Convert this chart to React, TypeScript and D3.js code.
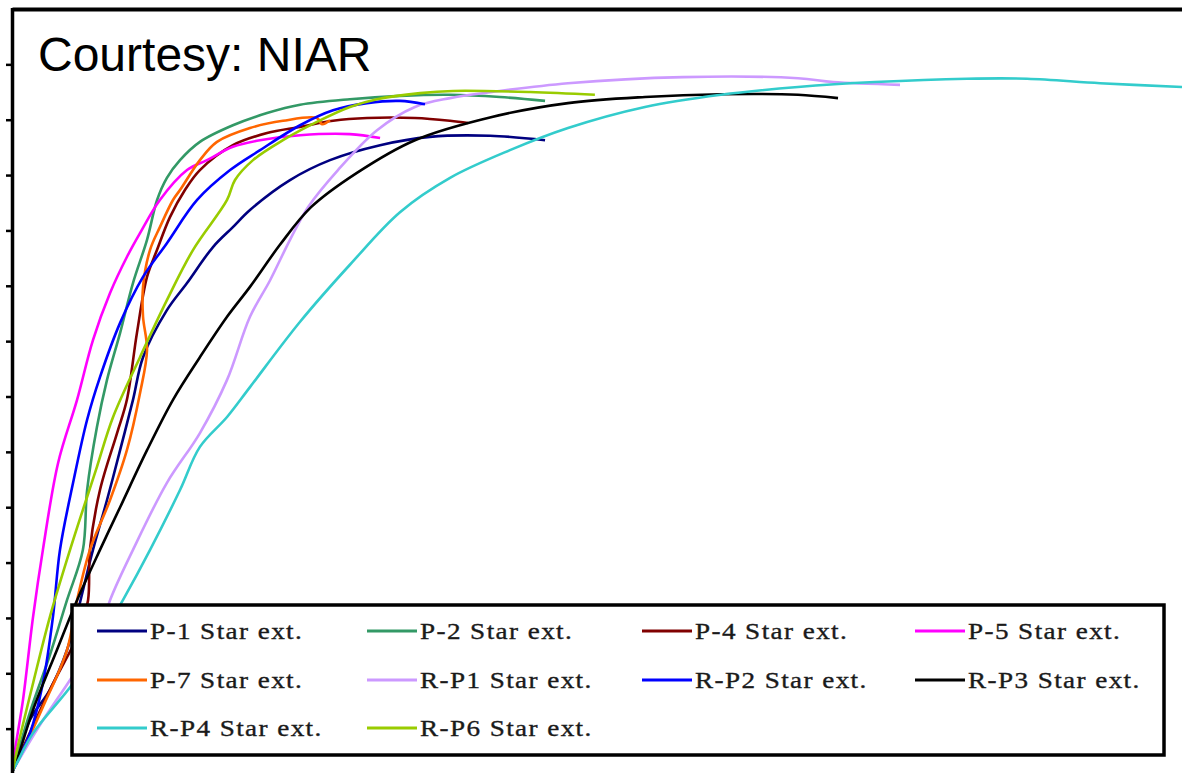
import React, { useEffect, useRef } from "react";
import * as d3 from "d3";

const WIDTH = 1182;
const HEIGHT = 773;

type Pt = [number, number];

// displacement (x) vs load (y)
const p1: Pt[] = [[0.04, 0.25], [0.77, 1.16], [1.62, 1.7], [2.35, 2.42], [3.46, 4.23], [4.06, 5.13], [4.62, 6.03], [5.17, 6.94], [5.6, 7.71], [6.62, 8.56], [7.48, 9.05], [8.59, 9.7], [9.44, 10.06], [10.17, 10.37], [11.88, 10.91], [13.59, 11.27], [15.73, 11.54], [17.86, 11.69], [20.43, 11.71], [22.78, 11.63]];
const p2: Pt[] = [[0.04, 0.25], [0.77, 1.3], [1.62, 2.33], [2.35, 3.32], [3.03, 4.23], [3.21, 5.31], [3.63, 6.45], [4.06, 7.3], [4.62, 8.15], [5.17, 9.05], [5.77, 9.83], [6.2, 10.55], [6.62, 10.95], [7.18, 11.27], [8.03, 11.6], [9.44, 11.9], [10.9, 12.12], [12.31, 12.27], [14.44, 12.37], [16.58, 12.43], [18.72, 12.45], [20.85, 12.41], [22.78, 12.34]];
const p4: Pt[] = [[0.04, 0.25], [1.62, 1.7], [2.91, 2.78], [3.25, 3.32], [3.33, 4.23], [3.76, 5.31], [4.49, 6.34], [4.91, 6.94], [5.34, 8.15], [5.77, 9.16], [6.2, 9.65], [6.75, 10.24], [7.39, 10.73], [8.03, 11.09], [9.44, 11.54], [10.9, 11.76], [12.31, 11.87], [13.72, 11.98], [15.17, 12.03], [17.22, 12.03], [18.72, 11.98], [19.49, 11.94]];
const p5: Pt[] = [[0.04, 0.25], [0.13, 0.61], [0.47, 1.52], [0.9, 3.02], [1.32, 4.23], [1.97, 5.8], [2.78, 6.94], [3.46, 8.02], [4.19, 8.87], [4.91, 9.52], [5.47, 9.95], [6.32, 10.55], [7.48, 11.09], [8.33, 11.27], [9.44, 11.51], [10.6, 11.63], [12.31, 11.72], [14.44, 11.74], [15.73, 11.67]];
const p7: Pt[] = [[0.04, 0.25], [0.34, 0.49], [1.32, 1.39], [2.35, 2.42], [2.78, 3.32], [3.33, 4.23], [4.19, 5.13], [4.91, 6.03], [5.47, 7.06], [5.77, 7.84], [5.6, 8.44], [5.6, 8.98], [5.9, 9.65], [6.32, 10.06], [6.88, 10.55], [7.18, 10.73], [8.03, 11.27], [8.76, 11.6], [10.17, 11.85], [11.58, 11.98], [13.03, 12.03], [13.25, 11.92], [13.59, 11.99]];
const rp1: Pt[] = [[0.04, 0.25], [1.2, 1.07], [2.48, 1.88], [3.76, 2.73], [4.19, 3.32], [5.17, 4.23], [6.62, 5.44], [8.03, 6.34], [9.19, 7.3], [10.17, 8.44], [11.03, 9.1], [11.88, 9.83], [12.65, 10.42], [13.93, 11.09], [15.6, 11.81], [17.22, 12.23], [18.72, 12.39], [20.51, 12.5], [23.76, 12.66], [28.68, 12.77], [33.59, 12.75], [35.09, 12.68], [37.95, 12.63]];
const rp2: Pt[] = [[0.04, 0.25], [0.77, 0.92], [1.32, 1.82], [1.75, 3.02], [2.05, 4.23], [2.61, 5.44], [3.21, 6.58], [3.76, 7.35], [4.62, 8.33], [5.6, 9.16], [6.62, 9.77], [7.91, 10.55], [9.32, 11.09], [10.6, 11.45], [12.31, 11.9], [13.72, 12.17], [15.17, 12.3], [16.58, 12.34], [17.65, 12.28]];
const rp3: Pt[] = [[0.04, 0.25], [0.21, 0.43], [0.9, 1.34], [1.92, 2.42], [2.78, 3.32], [3.76, 4.23], [4.62, 5.0], [5.77, 6.03], [6.88, 6.94], [8.03, 7.71], [9.19, 8.44], [10.17, 8.98], [11.45, 9.74], [12.78, 10.42], [14.74, 11.04], [17.22, 11.63], [20.51, 12.05], [23.76, 12.3], [27.05, 12.41], [30.3, 12.46], [33.59, 12.45], [35.3, 12.39]];
const rp4: Pt[] = [[0.04, 0.25], [0.21, 0.38], [0.9, 0.92], [2.61, 1.82], [3.76, 2.6], [4.74, 3.32], [5.9, 4.23], [7.18, 5.31], [8.03, 6.09], [9.19, 6.63], [10.17, 7.17], [12.31, 8.35], [14.44, 9.38], [16.58, 10.33], [18.72, 10.95], [21.28, 11.45], [23.76, 11.85], [27.05, 12.23], [30.3, 12.45], [33.59, 12.59], [36.88, 12.68], [40.81, 12.74], [43.38, 12.74], [46.5, 12.66], [50.0, 12.59]];
const rp6: Pt[] = [[0.04, 0.25], [0.21, 0.61], [0.9, 1.82], [1.62, 3.02], [2.48, 4.23], [3.63, 5.73], [4.32, 6.63], [5.47, 7.71], [6.62, 8.74], [7.74, 9.65], [9.19, 10.55], [9.53, 10.91], [10.3, 11.27], [11.58, 11.63], [13.03, 11.96], [14.44, 12.23], [15.6, 12.37], [17.44, 12.48], [18.85, 12.52], [22.14, 12.5], [24.91, 12.45]];

const seriesNames = [
  "P-1 Star ext.", "P-2 Star ext.", "P-4 Star ext.", "P-5 Star ext.",
  "P-7 Star ext.", "R-P1 Star ext.", "R-P2 Star ext.", "R-P3 Star ext.",
  "R-P4 Star ext.", "R-P6 Star ext.",
];
const seriesColors = [
  "#000080", "#339966", "#800000", "#ff00ff",
  "#ff6600", "#cc99ff", "#0000ff", "#000000",
  "#33cccc", "#99cc00",
];
const seriesData = [p1, p2, p4, p5, p7, rp1, rp2, rp3, rp4, rp6];
const loadTicks = d3.range(1, 14);

export default function App() {
  const axisRef = useRef<SVGGElement>(null);

  const x = d3.scaleLinear().domain([0, 50]).range([12, 1182]);
  const y = d3.scaleLinear().domain([0, 14]).range([784, 9]);

  const line = d3
    .line<Pt>()
    .x((d) => x(d[0]))
    .y((d) => y(d[1]))
    .curve(d3.curveCatmullRom.alpha(0.5));

  useEffect(() => {
    if (!axisRef.current) return;
    const g = d3.select(axisRef.current);
    g.selectAll("*").remove();
    g.call(
      d3.axisLeft(y).tickValues(loadTicks).tickSize(5).tickFormat(() => "")
    );
    g.select(".domain").remove();
    g.selectAll(".tick line").attr("stroke", "#000").attr("stroke-width", 2.5);
  }, []);

  // legend layout
  const colX = [97, 367, 642, 915];
  const rowY = [631, 680, 728];

  return (
    <svg
      width={WIDTH}
      height={HEIGHT}
      style={{ position: "absolute", left: 0, top: 0, background: "#fff" }}
    >
      <rect x={0} y={0} width={WIDTH} height={HEIGHT} fill="#fff" />

      {seriesData.map((d, i) => (
        <path
          key={seriesNames[i]}
          d={line(d) ?? ""}
          fill="none"
          stroke={seriesColors[i]}
          strokeWidth={2.6}
          strokeLinejoin="round"
        />
      ))}

      {/* frame */}
      <line x1={12.5} y1={9.5} x2={WIDTH + 5} y2={9.5} stroke="#000" strokeWidth={4} />
      <line x1={12.5} y1={8} x2={12.5} y2={HEIGHT + 5} stroke="#000" strokeWidth={3.5} />
      <g ref={axisRef} transform="translate(11,0)" />

      <text
        x={38}
        y={71}
        fontFamily="Liberation Sans, Arial, sans-serif"
        fontSize={48}
        fill="#000"
      >
        Courtesy: NIAR
      </text>

      {/* legend */}
      <rect x={72} y={605} width={1092} height={150} fill="#fff" stroke="#000" strokeWidth={3.5} />
      {seriesNames.map((name, i) => {
        const cx = colX[i % 4];
        const cy = rowY[Math.floor(i / 4)];
        return (
          <g key={name}>
            <line x1={cx} x2={cx + 50} y1={cy} y2={cy} stroke={seriesColors[i]} strokeWidth={3} />
            <text
              transform={`translate(${cx + 53},${cy + 8}) scale(1.18,1)`}
              fontFamily="Liberation Serif, Times New Roman, serif"
              fontSize={23}
              letterSpacing={1.2}
              fill="#1a1a1a"
              stroke="#1a1a1a"
              strokeWidth={0.35}
            >
              {name}
            </text>
          </g>
        );
      })}
    </svg>
  );
}
